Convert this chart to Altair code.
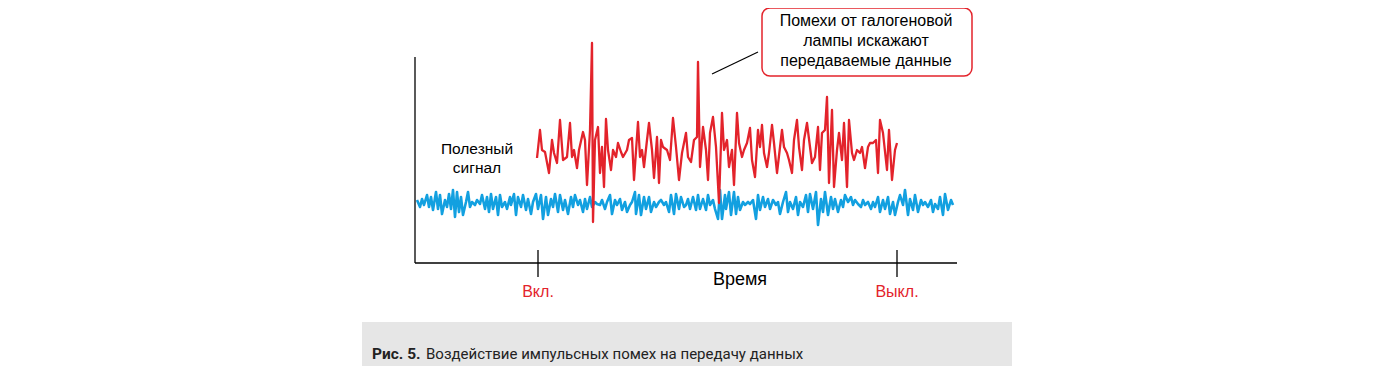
import altair as alt
import pandas as pd

# ---- data (time in arbitrary units, signal level in arbitrary units) ----
red_t = [122, 125, 127, 130, 134, 137, 139, 142, 145, 148, 152, 155, 157, 159, 162, 164, 168, 170, 172, 175,
         177, 178, 180, 183, 185, 187, 189, 191, 193, 196, 198, 201, 203, 206, 208, 212, 214, 217, 219, 223,
         225, 227, 229, 232, 234, 237, 239, 242, 244, 246, 248, 252, 255, 258, 261, 264, 267, 271, 273, 276,
         279, 282, 283, 285, 288, 291, 293, 295, 298, 301, 304, 307, 309, 312, 314, 317, 319, 322, 324, 327,
         329, 332, 335, 337, 340, 343, 345, 347, 349, 352, 354, 357, 359, 362, 367, 369, 372, 374, 377, 379,
         382, 384, 387, 389, 392, 395, 397, 400, 403, 405, 407, 410, 412, 414, 417, 419, 422, 424, 427, 429,
         432, 434, 437, 439, 442, 445, 447, 450, 453, 455, 458, 461, 463, 465, 468, 472, 474, 477, 480, 482]
red_v = [105, 133, 113, 111, 90, 123, 110, 100, 143, 103, 106, 140, 106, 113, 95, 113, 131, 123, 78, 133,
         220, 41, 123, 136, 90, 116, 76, 144, 113, 93, 113, 106, 120, 111, 106, 113, 123, 125, 83, 141,
         106, 113, 96, 123, 140, 113, 85, 126, 80, 123, 116, 113, 103, 145, 116, 83, 110, 130, 106, 101,
         123, 126, 201, 96, 136, 113, 83, 130, 146, 116, 60, 150, 113, 123, 96, 113, 78, 150, 120, 106,
         113, 120, 135, 103, 86, 133, 116, 138, 110, 96, 110, 138, 120, 90, 133, 116, 110, 103, 90, 123,
         143, 116, 93, 123, 140, 116, 100, 106, 136, 93, 130, 133, 166, 80, 153, 76, 113, 130, 103, 140,
         76, 143, 110, 103, 113, 110, 116, 95, 116, 120, 120, 123, 90, 143, 130, 93, 133, 83, 113, 120]

blue_t = [2, 5, 7, 9, 12, 14, 16, 18, 21, 23, 25, 27, 30, 32, 34, 36, 38, 40, 42, 44,
          46, 48, 51, 53, 55, 57, 60, 62, 65, 67, 70, 72, 74, 76, 78, 81, 83, 85, 87, 90,
          92, 95, 96, 99, 101, 103, 106, 108, 111, 113, 116, 118, 121, 123, 126, 128, 131, 133, 136, 138,
          140, 143, 145, 148, 150, 153, 156, 158, 160, 163, 165, 168, 170, 172, 175, 177, 180, 182, 185, 187,
          190, 192, 195, 197, 200, 202, 205, 207, 210, 212, 215, 217, 220, 221, 224, 226, 229, 231, 234, 236,
          239, 241, 244, 246, 249, 251, 254, 256, 259, 261, 264, 266, 269, 271, 273, 275, 278, 281, 283, 285,
          288, 291, 293, 295, 298, 300, 303, 305, 307, 310, 311, 314, 316, 319, 321, 323, 325, 328, 330, 333,
          335, 338, 341, 343, 345, 348, 350, 353, 355, 358, 361, 363, 365, 368, 371, 373, 375, 378, 381, 383,
          385, 388, 391, 393, 395, 398, 401, 403, 406, 408, 410, 413, 416, 418, 420, 423, 426, 428, 430, 433,
          436, 438, 440, 443, 446, 448, 450, 453, 456, 458, 460, 463, 465, 468, 470, 473, 475, 478, 480, 483,
          485, 488, 490, 493, 495, 498, 500, 503, 506, 508, 510, 513, 516, 518, 520, 523, 525, 528, 530, 533,
          536, 538]
blue_v = [63, 56, 64, 58, 68, 56, 66, 53, 71, 54, 68, 49, 63, 56, 69, 54, 73, 46, 71, 51,
          66, 48, 61, 71, 56, 61, 58, 63, 59, 68, 54, 66, 51, 69, 54, 66, 48, 68, 56, 61,
          54, 66, 58, 69, 48, 66, 56, 68, 53, 64, 49, 61, 69, 54, 68, 44, 66, 48, 64, 56,
          69, 51, 68, 53, 63, 49, 66, 56, 68, 58, 63, 51, 64, 54, 66, 56, 61, 59, 58, 63,
          54, 61, 68, 49, 63, 58, 64, 53, 61, 51, 58, 61, 71, 49, 68, 48, 66, 54, 66, 51,
          61, 56, 61, 63, 58, 61, 51, 68, 49, 69, 54, 66, 56, 58, 64, 54, 66, 53, 68, 54,
          64, 53, 68, 58, 63, 54, 44, 73, 44, 68, 54, 71, 48, 71, 49, 66, 53, 61, 58, 61,
          59, 63, 44, 68, 53, 66, 56, 64, 54, 63, 58, 61, 49, 61, 71, 51, 61, 54, 66, 48,
          61, 56, 68, 51, 69, 54, 71, 38, 64, 51, 71, 48, 66, 54, 64, 51, 63, 56, 68, 61,
          66, 58, 63, 59, 56, 63, 58, 61, 54, 61, 56, 66, 51, 63, 54, 66, 49, 61, 48, 61,
          68, 58, 73, 48, 64, 53, 68, 51, 63, 58, 61, 56, 63, 51, 59, 54, 66, 48, 69, 53,
          63, 58]

switch_t = [123, 482]
switch_labels = ["Вкл.", "Выкл."]
axis_label = "Время"
signal_label = ["Полезный", "сигнал"]
note_lines = ["Помехи от галогеновой", "лампы искажают", "передаваемые данные"]
caption_bold = "Рис. 5."
caption_text = "Воздействие импульсных помех на передачу данных"

RED = "#e3232b"
BLUE = "#12a0e0"
FONT = "Liberation Sans"
CAP_FONT = "Roboto"

X = alt.Scale(domain=[-407, 952], nice=False, zero=False)
Y = alt.Scale(domain=[-103, 255], nice=False, zero=False)


def xq(f):
    return alt.X(f, type="quantitative", scale=X, axis=None)


def yq(f):
    return alt.Y(f, type="quantitative", scale=Y, axis=None)


red_df = pd.DataFrame({"t": red_t, "v": red_v})
blue_df = pd.DataFrame({"t": blue_t, "v": blue_v})

# caption background
caption_bg = alt.Chart(pd.DataFrame({"t": [-53], "t2": [597], "v": [-59], "v2": [-111]})).mark_rect(
    color="#e6e6e6"
).encode(x=xq("t"), x2="t2", y=yq("v"), y2="v2")

blue_line = alt.Chart(blue_df).mark_line(color=BLUE, strokeWidth=2.6, strokeJoin="round").encode(
    x=xq("t"), y=yq("v"), order="t:Q"
)
red_line = alt.Chart(red_df).mark_line(color=RED, strokeWidth=2.3, strokeJoin="round").encode(
    x=xq("t"), y=yq("v"), order="t:Q"
)

axes = alt.Chart(pd.DataFrame({"t": [0, 0], "t2": [0, 542], "v": [0, 0], "v2": [206, 0]})).mark_rule(
    color="black", strokeWidth=1.3
).encode(x=xq("t"), x2="t2", y=yq("v"), y2="v2")

ticks = alt.Chart(pd.DataFrame({"t": switch_t, "v": [13, 13], "v2": [-14, -14]})).mark_rule(
    color="black", strokeWidth=1.3
).encode(x=xq("t"), y=yq("v"), y2="v2")

switch_text = alt.Chart(pd.DataFrame({"t": switch_t, "v": [-29, -29], "s": switch_labels})).mark_text(
    color=RED, font=FONT, fontSize=16, align="center", baseline="middle"
).encode(x=xq("t"), y=yq("v"), text="s:N")

time_text = alt.Chart(pd.DataFrame({"t": [325], "v": [-17], "s": [axis_label]})).mark_text(
    color="black", font=FONT, fontSize=18, align="center", baseline="middle"
).encode(x=xq("t"), y=yq("v"), text="s:N")

signal_text = alt.Chart(pd.DataFrame({"t": [62, 62], "v": [114, 95], "s": signal_label})).mark_text(
    color="black", font=FONT, fontSize=15.5, align="center", baseline="middle"
).encode(x=xq("t"), y=yq("v"), text="s:N")

note_box = alt.Chart(pd.DataFrame({"t": [347], "t2": [557], "v": [255], "v2": [187]})).mark_rect(
    fill="white", stroke=RED, strokeWidth=1.5, cornerRadius=8
).encode(x=xq("t"), x2="t2", y=yq("v"), y2="v2")

note_text = alt.Chart(pd.DataFrame({"t": [451, 451, 451], "v": [242, 222, 202], "s": note_lines})).mark_text(
    color="black", font=FONT, fontSize=16, align="center", baseline="middle"
).encode(x=xq("t"), y=yq("v"), text="s:N")

leader = alt.Chart(pd.DataFrame({"t": [297], "t2": [343], "v": [189], "v2": [211]})).mark_rule(
    color="black", strokeWidth=1.2
).encode(x=xq("t"), x2="t2", y=yq("v"), y2="v2")

cap_bold = alt.Chart(pd.DataFrame({"t": [-43], "v": [-91], "s": [caption_bold]})).mark_text(
    color="#222222", font=CAP_FONT, fontSize=15.5, fontWeight="bold", align="left", baseline="middle"
).encode(x=xq("t"), y=yq("v"), text="s:N")

cap_text = alt.Chart(pd.DataFrame({"t": [11], "v": [-91], "s": [caption_text]})).mark_text(
    color="#222222", font=CAP_FONT, fontSize=15, align="left", baseline="middle"
).encode(x=xq("t"), y=yq("v"), text="s:N")

chart = alt.layer(
    caption_bg, blue_line, red_line, axes, ticks, switch_text, time_text, signal_text,
    leader, note_box, note_text, cap_bold, cap_text
).properties(
    width=1359, height=358, padding=0, autosize=alt.AutoSizeParams(type="none")
).configure_view(stroke=None)

chart.save("out.html", embed_options={"renderer": "svg", "actions": False})
